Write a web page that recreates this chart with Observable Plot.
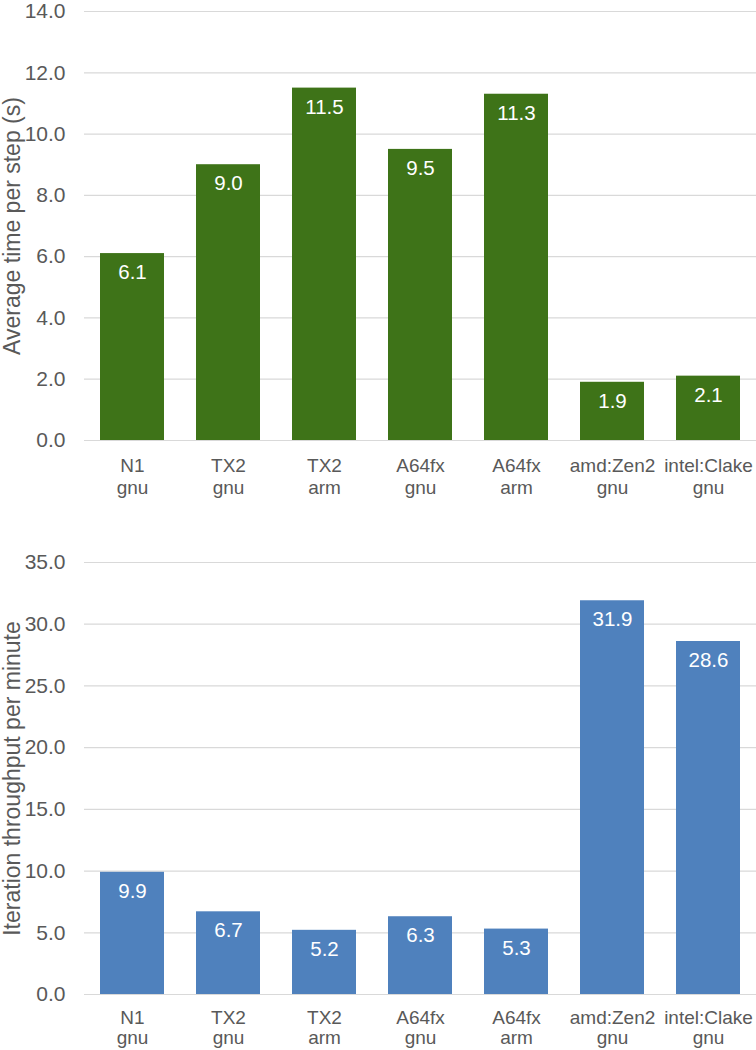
<!DOCTYPE html>
<html>
<head>
<meta charset="utf-8">
<script src="https://cdn.jsdelivr.net/npm/d3@7"></script>
<script src="https://cdn.jsdelivr.net/npm/@observablehq/plot@0.6"></script>
<style>
  body { margin: 0; background: #fff; font-family: "Liberation Sans", Arial, sans-serif; }
  svg { display: block; }
</style>
</head>
<body>
<div id="top"></div>
<div id="bottom"></div>
<script>
const categories = ["N1\ngnu", "TX2\ngnu", "TX2\narm", "A64fx\ngnu", "A64fx\narm", "amd:Zen2\ngnu", "intel:Clake\ngnu"];
const timePerStep = [6.1, 9.0, 11.5, 9.5, 11.3, 1.9, 2.1];
const throughput = [9.9, 6.7, 5.2, 6.3, 5.3, 31.9, 28.6];
const topTicks = [0, 2, 4, 6, 8, 10, 12, 14];
const bottomTicks = [0, 5, 10, 15, 20, 25, 30, 35];

function chart({values, ticks, domainMax, color, title, height, marginTop, marginBottom, labelDy, catDy, catLine}) {
  const data = categories.map((c, i) => ({cat: c, v: values[i]}));
  const fmt = d3.format(".1f");
  return Plot.plot({
    width: 756,
    height,
    marginTop,
    marginBottom,
    marginLeft: 84,
    marginRight: 0,
    style: {fontFamily: '"Liberation Sans", Arial, sans-serif', fontSize: "20px", color: "#595959", background: "#fff", overflow: "visible"},
    x: {domain: categories, paddingInner: 1/3, paddingOuter: 1/6, axis: null},
    y: {domain: [0, domainMax], axis: null},
    marks: [
      Plot.ruleY(ticks, {stroke: "#d9d9d9", strokeWidth: 1.2}),
      Plot.barY(data, {x: "cat", y: "v", fill: color}),
      Plot.text(data, {x: "cat", y: "v", text: d => fmt(d.v), fill: "white", dy: labelDy, fontSize: 20.5, lineAnchor: "middle"}),
      Plot.text(data, {x: "cat", y: 0, text: "cat", fill: "#595959", fontSize: 19, lineAnchor: "top", dy: catDy, lineHeight: catLine}),
      Plot.text(ticks, {y: d => d, frameAnchor: "left", text: d => fmt(d), textAnchor: "end", dx: -19, fill: "#595959", fontSize: 21}),
      Plot.text([title], {frameAnchor: "left", textAnchor: "middle", rotate: -90, dx: -72, fill: "#595959", fontSize: 23, text: d => d})
    ]
  });
}

document.getElementById("top").appendChild(chart({
  values: timePerStep, ticks: topTicks, domainMax: 14, color: "#3e7318",
  title: "Average time per step (s)", height: 505, marginTop: 11, marginBottom: 65, labelDy: 19, catDy: 16, catLine: 1.15
}));
document.getElementById("bottom").appendChild(chart({
  values: throughput, ticks: bottomTicks, domainMax: 35, color: "#4f81bd",
  title: "Iteration throughput per minute", height: 545, marginTop: 57, marginBottom: 56, labelDy: 19, catDy: 15, catLine: 1.06
}));
</script>
</body>
</html>
